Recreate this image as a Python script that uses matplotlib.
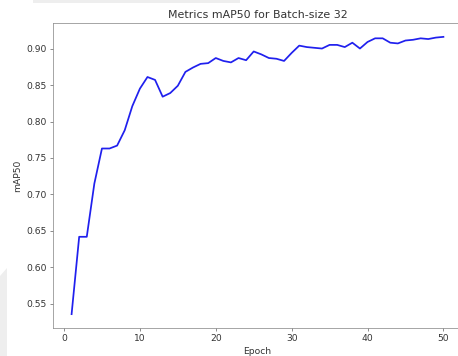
import numpy as np
import matplotlib
matplotlib.use('Agg')
import matplotlib.pyplot as plt
from matplotlib.patches import Polygon, Rectangle

# mAP50 per epoch
epochs = list(range(1, 51))
map50 = [0.536, 0.642, 0.642, 0.715, 0.763, 0.763, 0.767, 0.788, 0.821, 0.845,
         0.861, 0.857, 0.834, 0.839, 0.849, 0.868, 0.874, 0.879, 0.880, 0.887,
         0.883, 0.881, 0.887, 0.884, 0.896, 0.892, 0.887, 0.886, 0.883, 0.894,
         0.904, 0.902, 0.901, 0.900, 0.905, 0.905, 0.902, 0.908, 0.900, 0.909,
         0.914, 0.914, 0.908, 0.907, 0.911, 0.912, 0.914, 0.913, 0.915, 0.916]

W, H = 458, 356
dpi = 66
fig = plt.figure(figsize=(W / dpi, H / dpi), dpi=dpi)

# faint grey background bits from the screenshot
fig.patches.append(Polygon([(0, 0), (7 / W, 0), (7 / W, 1 - 268 / H), (0, 1 - 276 / H)],
                           closed=True, transform=fig.transFigure,
                           facecolor='#eeeeee', edgecolor='none', zorder=0))
fig.patches.append(Rectangle((33 / W, 1 - 3 / H), 207 / W, 3 / H,
                             transform=fig.transFigure,
                             facecolor='#eeeeee', edgecolor='none', zorder=0))

ax = fig.add_axes([53 / W, 28 / H, 409 / W, 305 / H])

ax.plot(epochs, map50, color='#2020ee', linewidth=1.9)
ax.set_title('Metrics mAP50 for Batch-size 32', color='#333333')
ax.set_xlabel('Epoch', color='#333333')
ax.set_ylabel('mAP50', color='#333333')
ax.set_yticks(np.arange(0.55, 0.91, 0.05))
ax.tick_params(colors='#666666', labelcolor='#333333')
for s in ax.spines.values():
    s.set_color('#888888')
ax.spines['right'].set_visible(False)

fig.savefig('out.png', dpi=dpi)
